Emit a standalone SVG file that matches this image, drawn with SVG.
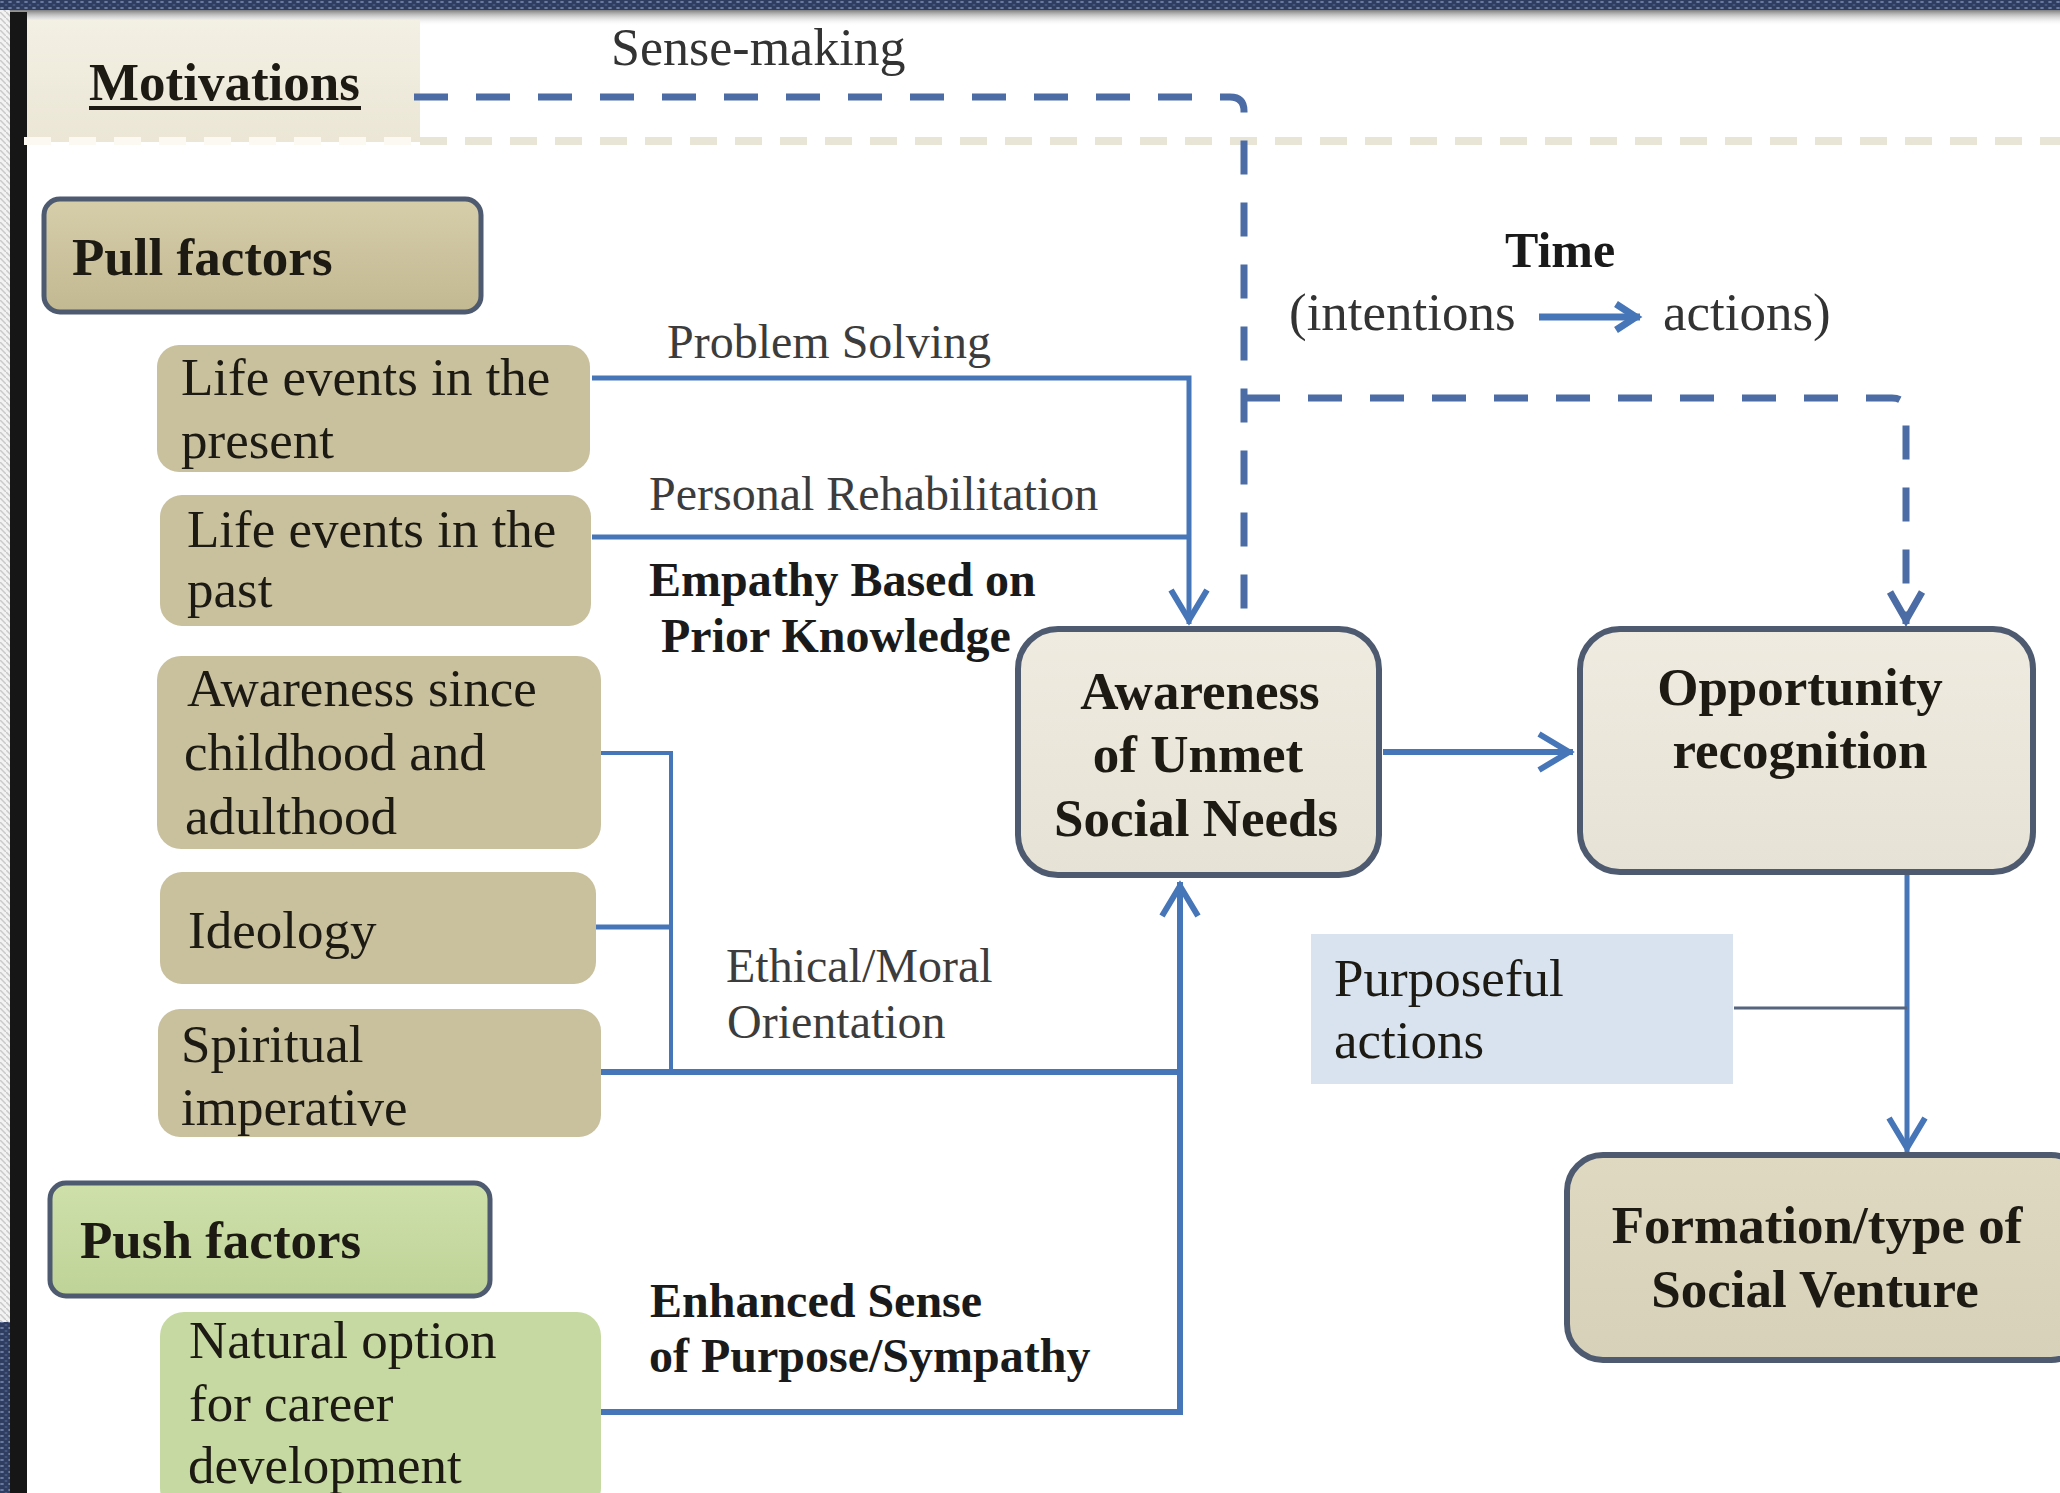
<svg xmlns="http://www.w3.org/2000/svg" width="2060" height="1493" viewBox="0 0 2060 1493">
<defs>
<style>
.t{font-family:"Liberation Serif","Times New Roman",serif;fill:#1c1a12}
.lb{font-size:53px}
.b{font-weight:bold}
.cl{font-family:"Liberation Serif","Times New Roman",serif;font-size:48px;fill:#3c3c3c}
.clb{font-family:"Liberation Serif","Times New Roman",serif;font-size:48px;font-weight:bold;fill:#1a1a1a}
.ln{fill:none;stroke:#4776b8;stroke-width:5}
.dash{fill:none;stroke:#4b6ca5;stroke-width:7;stroke-dasharray:34 28}
.tan{fill:#c9c09e}
.grn{fill:#c7d9a2}
.hdr{stroke:#4d5a70;stroke-width:5}
.main{stroke:#4d5a70;stroke-width:6}
</style>
<pattern id="navy" width="8" height="6" patternUnits="userSpaceOnUse">
<rect width="8" height="6" fill="#2e3d60"/>
<ellipse cx="2" cy="2" rx="2" ry="1" fill="#7d90b8" opacity="0.8"/>
<ellipse cx="6" cy="5" rx="1.6" ry="0.8" fill="#5a6d96" opacity="0.8"/>
</pattern>
<pattern id="stripes" width="6" height="6" patternUnits="userSpaceOnUse">
<rect width="6" height="6" fill="#f2f2f2"/>
<path d="M0,0 L6,6" stroke="#c9c9c9" stroke-width="1.5"/>
</pattern>
<linearGradient id="topshade" x1="0" y1="0" x2="0" y2="1">
<stop offset="0" stop-color="#7e7e7e"/>
<stop offset="1" stop-color="#ffffff" stop-opacity="0"/>
</linearGradient>
<linearGradient id="cream" x1="0" y1="0" x2="0" y2="1">
<stop offset="0" stop-color="#f3f0e4"/>
<stop offset="1" stop-color="#ebe6d5"/>
</linearGradient>
<linearGradient id="pull" x1="0" y1="0" x2="0" y2="1">
<stop offset="0" stop-color="#d6cdaa"/>
<stop offset="1" stop-color="#c2b992"/>
</linearGradient>
<linearGradient id="push" x1="0" y1="0" x2="0" y2="1">
<stop offset="0" stop-color="#cfe0ab"/>
<stop offset="1" stop-color="#bed397"/>
</linearGradient>
<linearGradient id="light" x1="0" y1="0" x2="0" y2="1">
<stop offset="0" stop-color="#efebe0"/>
<stop offset="1" stop-color="#e6e2d5"/>
</linearGradient>
<linearGradient id="form" x1="0" y1="0" x2="0" y2="1">
<stop offset="0" stop-color="#e0d9c2"/>
<stop offset="1" stop-color="#d8d1b9"/>
</linearGradient>
<marker id="arr" markerUnits="userSpaceOnUse" markerWidth="48" markerHeight="44" viewBox="0 0 48 44" refX="40" refY="22" orient="auto" overflow="visible">
<path d="M6,4 L36,22 L6,40" fill="none" stroke="#4776b8" stroke-width="6"/>
</marker>
<marker id="arrD" markerUnits="userSpaceOnUse" markerWidth="48" markerHeight="44" viewBox="0 0 48 44" refX="40" refY="22" orient="auto" overflow="visible">
<path d="M8,6 L36,22 L8,38" fill="none" stroke="#4b6ca5" stroke-width="7"/>
</marker>
<marker id="arrS" markerUnits="userSpaceOnUse" markerWidth="36" markerHeight="36" viewBox="0 0 36 36" refX="30" refY="18" orient="auto" overflow="visible">
<path d="M6,5 L26,18 L6,31" fill="none" stroke="#4776b8" stroke-width="7"/>
</marker>
</defs>

<g id="background">
<rect width="2060" height="1493" fill="#ffffff"/>
<rect x="0" y="0" width="2060" height="10" fill="url(#navy)"/>
<rect x="10" y="10" width="2050" height="16" fill="url(#topshade)"/>
<rect x="0" y="10" width="10" height="1312" fill="url(#stripes)"/>
<rect x="0" y="1322" width="10" height="171" fill="url(#navy)"/>
<rect x="10" y="12" width="17" height="1481" fill="#161616"/>
<rect x="27" y="20" width="393" height="122" fill="url(#cream)"/>
<line x1="24" y1="141" x2="420" y2="141" stroke="#fbf9f2" stroke-width="8" stroke-dasharray="27 18"/>
<line x1="420" y1="141" x2="2060" y2="141" stroke="#e9e5d6" stroke-width="8" stroke-dasharray="27 18"/>
</g>

<g id="connectors">
<path class="dash" d="M414,97 H1230 Q1244,97 1244,111 V628"/>
<path class="dash" d="M1246,398 H1892 Q1906,398 1906,412 V624" marker-end="url(#arrD)"/>
<path class="ln" d="M592,378 H1189 V624" marker-end="url(#arr)"/>
<path class="ln" d="M592,537 H1189"/>
<path class="ln" d="M600,753 H671 V1072" style="stroke-width:4"/>
<path class="ln" d="M596,927 H671" style="stroke-width:5"/>
<path class="ln" d="M600,1072 H1180" style="stroke-width:6"/>
<path class="ln" d="M600,1412 H1180 V882" style="stroke-width:6" marker-end="url(#arr)"/>
<path class="ln" d="M1383,752 H1573" style="stroke-width:6" marker-end="url(#arr)"/>
<path class="ln" d="M1907,874 V1152" marker-end="url(#arr)"/>
<path d="M1734,1008 H1907" fill="none" stroke="#56647e" stroke-width="3"/>
<path class="ln" d="M1539,317 H1640" style="stroke-width:7" marker-end="url(#arrS)"/>
</g>

<g id="node-motivations">
<text class="t b" x="89" y="100" style="font-size:53px">Motivations</text>
<rect x="89" y="106" width="272" height="4" fill="#1c1a12"/>
</g>

<g id="node-pull-factors">
<rect x="44" y="199" width="437" height="113" rx="16" fill="url(#pull)" class="hdr"/>
<text class="t lb b" x="72" y="275">Pull factors</text>
</g>

<g id="node-life-present">
<rect x="157" y="345" width="433" height="127" rx="22" class="tan"/>
<text class="t lb" x="181" y="395">Life events in the</text>
<text class="t lb" x="181" y="458">present</text>
</g>

<g id="node-life-past">
<rect x="160" y="495" width="431" height="131" rx="22" class="tan"/>
<text class="t lb" x="187" y="547">Life events in the</text>
<text class="t lb" x="187" y="607">past</text>
</g>

<g id="node-awareness-childhood">
<rect x="157" y="656" width="444" height="193" rx="24" class="tan"/>
<text class="t lb" x="187" y="706">Awareness since</text>
<text class="t lb" x="184" y="770">childhood and</text>
<text class="t lb" x="185" y="834">adulthood</text>
</g>

<g id="node-ideology">
<rect x="160" y="872" width="436" height="112" rx="22" class="tan"/>
<text class="t lb" x="188" y="948">Ideology</text>
</g>

<g id="node-spiritual">
<rect x="158" y="1009" width="443" height="128" rx="22" class="tan"/>
<text class="t lb" x="181" y="1062">Spiritual</text>
<text class="t lb" x="181" y="1125">imperative</text>
</g>

<g id="node-push-factors">
<rect x="50" y="1183" width="440" height="113" rx="16" fill="url(#push)" class="hdr"/>
<text class="t lb b" x="80" y="1258">Push factors</text>
</g>

<g id="node-natural-option">
<rect x="160" y="1312" width="441" height="200" rx="24" class="grn"/>
<text class="t lb" x="189" y="1358">Natural option</text>
<text class="t lb" x="189" y="1421">for career</text>
<text class="t lb" x="188" y="1483">development</text>
</g>

<g id="node-awareness-unmet">
<rect x="1018" y="629" width="361" height="246" rx="40" fill="url(#light)" class="main"/>
<text class="t lb b" x="1200" y="709" text-anchor="middle">Awareness</text>
<text class="t lb b" x="1198" y="772" text-anchor="middle">of Unmet</text>
<text class="t lb b" x="1196" y="836" text-anchor="middle">Social Needs</text>
</g>

<g id="node-opportunity">
<rect x="1580" y="629" width="453" height="243" rx="40" fill="url(#light)" class="main"/>
<text class="t lb b" x="1800" y="705" text-anchor="middle">Opportunity</text>
<text class="t lb b" x="1800" y="768" text-anchor="middle">recognition</text>
</g>

<g id="node-purposeful">
<rect x="1311" y="934" width="422" height="150" fill="#d9e3ef"/>
<text class="t lb" x="1334" y="996">Purposeful</text>
<text class="t lb" x="1334" y="1058">actions</text>
</g>

<g id="node-formation">
<rect x="1567" y="1155" width="520" height="205" rx="36" fill="url(#form)" class="main"/>
<text class="t lb b" x="1817" y="1243" text-anchor="middle">Formation/type of</text>
<text class="t lb b" x="1815" y="1307" text-anchor="middle">Social Venture</text>
</g>

<g id="labels">
<text class="cl" x="611" y="65" style="font-size:52px;fill:#333">Sense-making</text>
<text class="cl" x="667" y="358">Problem Solving</text>
<text class="cl" x="649" y="510">Personal Rehabilitation</text>
<text class="clb" x="649" y="596">Empathy Based on</text>
<text class="clb" x="661" y="652">Prior Knowledge</text>
<text class="cl" x="726" y="982">Ethical/Moral</text>
<text class="cl" x="727" y="1038">Orientation</text>
<text class="clb" x="650" y="1317">Enhanced Sense</text>
<text class="clb" x="649" y="1372">of Purpose/Sympathy</text>
<text class="clb" x="1505" y="267" style="font-size:50px">Time</text>
<text class="cl" x="1289" y="330" style="font-size:53px;fill:#333">(intentions</text>
<text class="cl" x="1663" y="330" style="font-size:53px;fill:#333">actions)</text>
</g>
</svg>
